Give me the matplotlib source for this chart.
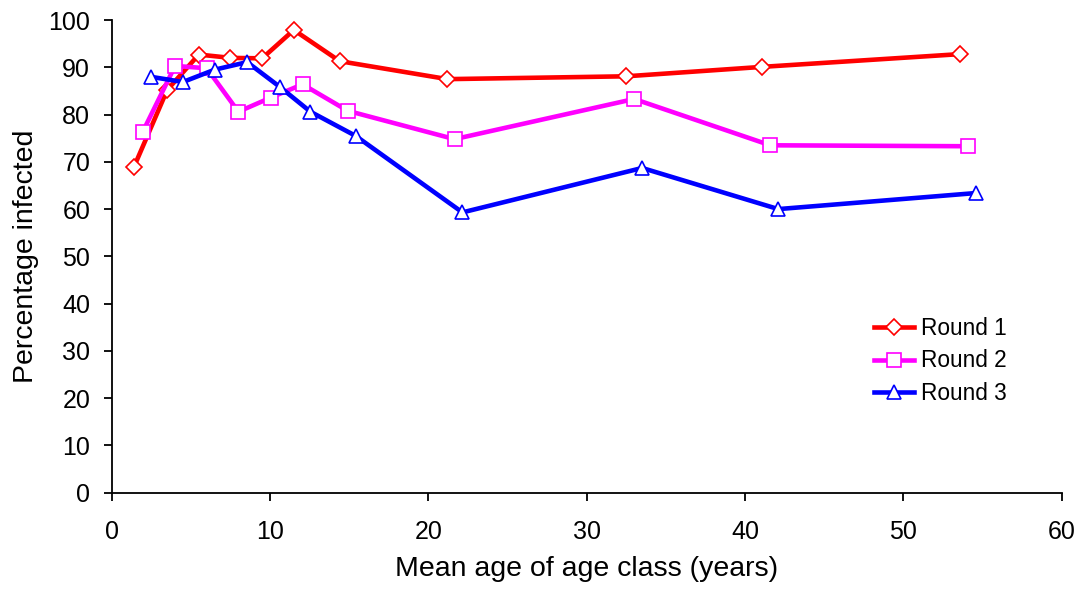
import matplotlib
matplotlib.use("Agg")
import matplotlib.pyplot as plt

plt.rcParams['font.family'] = ['Liberation Sans', 'DejaVu Sans']

r1_x = [1.4, 3.5, 5.5, 7.5, 9.5, 11.5, 14.4, 21.2, 32.5, 41.1, 53.6]
r1_y = [68.9, 85.2, 92.7, 92.0, 91.9, 97.9, 91.3, 87.5, 88.1, 90.1, 92.8]

r2_x = [1.95, 4.0, 6.0, 8.0, 10.05, 12.05, 14.9, 21.65, 33.0, 41.6, 54.1]
r2_y = [76.3, 90.3, 89.8, 80.6, 83.6, 86.4, 80.8, 74.8, 83.3, 73.5, 73.3]

r3_x = [2.45, 4.5, 6.5, 8.55, 10.6, 12.55, 15.4, 22.15, 33.5, 42.1, 54.6]
r3_y = [88.0, 86.9, 89.5, 91.1, 85.9, 80.6, 75.5, 59.3, 68.7, 60.0, 63.4]

labels = ["Round 1", "Round 2", "Round 3"]
x_ticks = [0, 10, 20, 30, 40, 50, 60]
y_ticks = [0, 10, 20, 30, 40, 50, 60, 70, 80, 90, 100]

fig = plt.figure(figsize=(10.85, 5.9), dpi=100)
ax = fig.add_axes([0.103, 0.165, 0.8755, 0.801])

ax.plot(r1_x, r1_y, color='#FF0000', lw=3.3, marker='D', ms=7.8,
        mfc='white', mec='#FF0000', mew=1.2, label=labels[0], zorder=3)
ax.plot(r2_x, r2_y, color='#FF00FF', lw=3.3, marker='s', ms=10.5,
        mfc='white', mec='#FF00FF', mew=1.2, label=labels[1], zorder=3)
ax.plot(r3_x, r3_y, color='#0000FF', lw=3.3, marker='^', ms=10.5,
        mfc='white', mec='#0000FF', mew=1.2, label=labels[2], zorder=3)

ax.set_xlim(0, 60)
ax.set_ylim(0, 100)
ax.set_xticks(x_ticks)
ax.set_yticks(y_ticks)
for s in ['top', 'right']:
    ax.spines[s].set_visible(False)
for s in ['left', 'bottom']:
    ax.spines[s].set_linewidth(1.3)
ax.tick_params(axis='both', direction='out', length=6, width=1.3,
               labelsize=18, colors='black')
ax.tick_params(axis='y', pad=9.5)
ax.tick_params(axis='x', pad=14)

ax.set_xlabel("Mean age of age class (years)", fontsize=20.5, labelpad=8)
ax.set_ylabel("Percentage infected", fontsize=20.5, labelpad=7)

leg = ax.legend(loc='upper left', bbox_to_anchor=(0.793, 0.391), frameon=False,
                fontsize=16.3, handlelength=1.75, handletextpad=0.3,
                labelspacing=0.42, borderaxespad=0)

fig.savefig("out.png", dpi=100)
